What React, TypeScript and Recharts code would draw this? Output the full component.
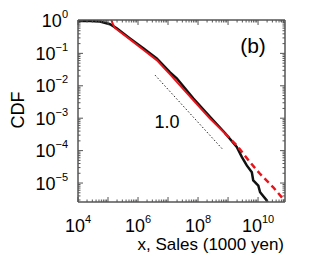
import { Line, LineChart, XAxis, YAxis } from "recharts"

// black: all firms, red: fitted / estimated CDF
const blackX = [1e4, 2.5e4, 5.4e4, 1.17e5, 1.95e5, 5.4e5, 1.5e6, 4.2e6, 1.17e7, 1.95e7, 6.9e7, 2.5e8, 7.9e8, 1.95e9, 2.9e9, 4.2e9, 6.2e9, 6.9e9, 1.02e10, 1.17e10, 1.95e10, 2.1e10]
const blackY = [1.0, 0.99, 0.965, 0.79, 0.59, 0.29, 0.143, 0.07, 0.026, 0.017, 0.0041, 0.0011, 3.5e-4, 1.29e-4, 6.3e-5, 3.5e-5, 2.15e-5, 1.2e-5, 8.3e-6, 5.2e-6, 2.9e-6, 2.4e-6]

const redX = [1.3e5, 1.35e5, 1.45e5, 1.66e5, 5.4e5, 1.5e6, 4.2e6, 1.17e7, 6.9e7, 2.5e8, 7.9e8]
const redY = [1.1, 0.95, 0.81, 0.62, 0.27, 0.13, 0.062, 0.0225, 0.0036, 0.00098, 3.4e-4]

const redDashX = [7.9e8, 1.95e9, 5.4e9, 1.17e10, 3.2e10, 6.9e10, 7.9e10]
const redDashY = [3.4e-4, 1.45e-4, 4.4e-5, 1.9e-5, 7.4e-6, 3.2e-6, 2.9e-6]

// guide line, slope 1.0
const slopeX = [3.7e6, 6.6e8]
const slopeY = [0.0213, 1.1e-4]

const xMajor = [1e4, 1e5, 1e6, 1e7, 1e8, 1e9, 1e10]
const xLabeled = [4, 6, 8, 10]
const yMajor = [1, 1e-1, 1e-2, 1e-3, 1e-4, 1e-5, 1e-6]
const yLabeled = [0, -1, -2, -3, -4, -5]

const xDomain = [1e4, 7.9e10]
const yDomain = [2.6e-6, 1.07]

const toPoints = (xs: number[], ys: number[]) => xs.map((x, i) => ({ x, y: ys[i] }))

const withMinor = (majors: number[], lo: number, hi: number) => {
  const out: number[] = []
  majors.forEach((m) => {
    for (let k = 1; k <= 9; k++) {
      const v = m * k
      if (v >= lo * 0.999 && v <= hi) out.push(v)
    }
  })
  return out
}

const isMajor = (v: number) => Math.abs(Math.log10(v) - Math.round(Math.log10(v))) < 1e-6
const axisColor = "#555"

function XTick(props: any) {
  const { x, y, payload, side } = props
  const v = payload.value
  const major = isMajor(v)
  const len = major ? 5 : 2.5
  const dir = side === "top" ? 1 : -1
  const exp = Math.round(Math.log10(v))
  return (
    <g>
      <line x1={x} y1={y} x2={x} y2={y + dir * len} stroke={axisColor} strokeWidth={1} />
      {side === "bottom" && major && xLabeled.includes(exp) && (
        <text x={x} y={y + 30} textAnchor="middle" fontSize={18} fill="#000">
          <tspan>10</tspan>
          <tspan dy={-9} fontSize={11}>{exp}</tspan>
        </text>
      )}
    </g>
  )
}

function YTick(props: any) {
  const { x, y, payload, side } = props
  const v = payload.value
  const major = isMajor(v)
  const len = major ? 5 : 2.5
  const dir = side === "left" ? 1 : -1
  const exp = Math.round(Math.log10(v))
  return (
    <g>
      <line x1={x} y1={y} x2={x + dir * len} y2={y} stroke={axisColor} strokeWidth={1} />
      {side === "left" && major && yLabeled.includes(exp) && (
        <text x={68} y={y + 6.5} textAnchor="end" fontSize={18} fill="#000">
          <tspan>10</tspan>
          <tspan dy={-9} fontSize={11}>{exp === 0 ? "0" : "\u2212" + Math.abs(exp)}</tspan>
        </text>
      )}
    </g>
  )
}

export default function App() {
  const xTicks = withMinor(xMajor, xDomain[0], xDomain[1])
  const yTicks = withMinor(yMajor, yDomain[0], yDomain[1])
  const black = toPoints(blackX, blackY)

  return (
    <div style={{ position: "absolute", left: 0, top: 0, width: 327, height: 254, background: "#fff", fontFamily: "'Liberation Sans', Arial, sans-serif" }}>
      <LineChart width={327} height={254} margin={{ top: 0, right: 0, bottom: 0, left: 0 }}>
        <XAxis xAxisId="bottom" dataKey="x" type="number" scale="log" domain={xDomain} allowDataOverflow
          ticks={xTicks} interval={0} height={52} tickSize={0} tickMargin={0} tickLine={false}
          axisLine={{ stroke: axisColor, strokeWidth: 1.5 }} tick={<XTick side="bottom" />} />
        <XAxis xAxisId="top" orientation="top" dataKey="x" type="number" scale="log" domain={xDomain} allowDataOverflow
          ticks={xTicks} interval={0} height={20} tickSize={0} tickMargin={0} tickLine={false}
          axisLine={{ stroke: axisColor, strokeWidth: 1.5 }} tick={<XTick side="top" />} />
        <YAxis yAxisId="left" dataKey="y" type="number" scale="log" domain={yDomain} allowDataOverflow
          ticks={yTicks} interval={0} width={78} tickSize={0} tickMargin={0} tickLine={false}
          axisLine={{ stroke: axisColor, strokeWidth: 1.5 }} tick={<YTick side="left" />} />
        <YAxis yAxisId="right" orientation="right" dataKey="y" type="number" scale="log" domain={yDomain} allowDataOverflow
          ticks={yTicks} interval={0} width={42} tickSize={0} tickMargin={0} tickLine={false}
          axisLine={{ stroke: axisColor, strokeWidth: 1.5 }} tick={<YTick side="right" />} />

        <Line xAxisId="top" yAxisId="right" data={black} dataKey="y" stroke="none" dot={false} isAnimationActive={false} />
        <Line xAxisId="bottom" yAxisId="left" data={toPoints(slopeX, slopeY)} dataKey="y" stroke="#222" strokeWidth={1} strokeDasharray="1.5 2" dot={false} isAnimationActive={false} />
        <Line xAxisId="bottom" yAxisId="left" data={black} dataKey="y" stroke="#111" strokeWidth={2.5} dot={false} isAnimationActive={false} />
        <Line xAxisId="bottom" yAxisId="left" data={toPoints(redDashX, redDashY)} dataKey="y" stroke="#e8141c" strokeWidth={2.5} strokeDasharray="6 4" dot={false} isAnimationActive={false} />
        <Line xAxisId="bottom" yAxisId="left" data={toPoints(redX, redY)} dataKey="y" stroke="#e8141c" strokeWidth={2} dot={false} isAnimationActive={false} />

        <text x={253} y={53} textAnchor="middle" fontSize={21} fill="#000">(b)</text>
        <text x={167} y={128} textAnchor="middle" fontSize={18} fill="#000">1.0</text>
        <text x={18} y={110} textAnchor="middle" dominantBaseline="central" fontSize={18} fill="#000" transform="rotate(-90 18 110)">CDF</text>
        <text x={284} y={250} textAnchor="end" fontSize={17} fill="#000">x, Sales (1000 yen)</text>
      </LineChart>
    </div>
  )
}
